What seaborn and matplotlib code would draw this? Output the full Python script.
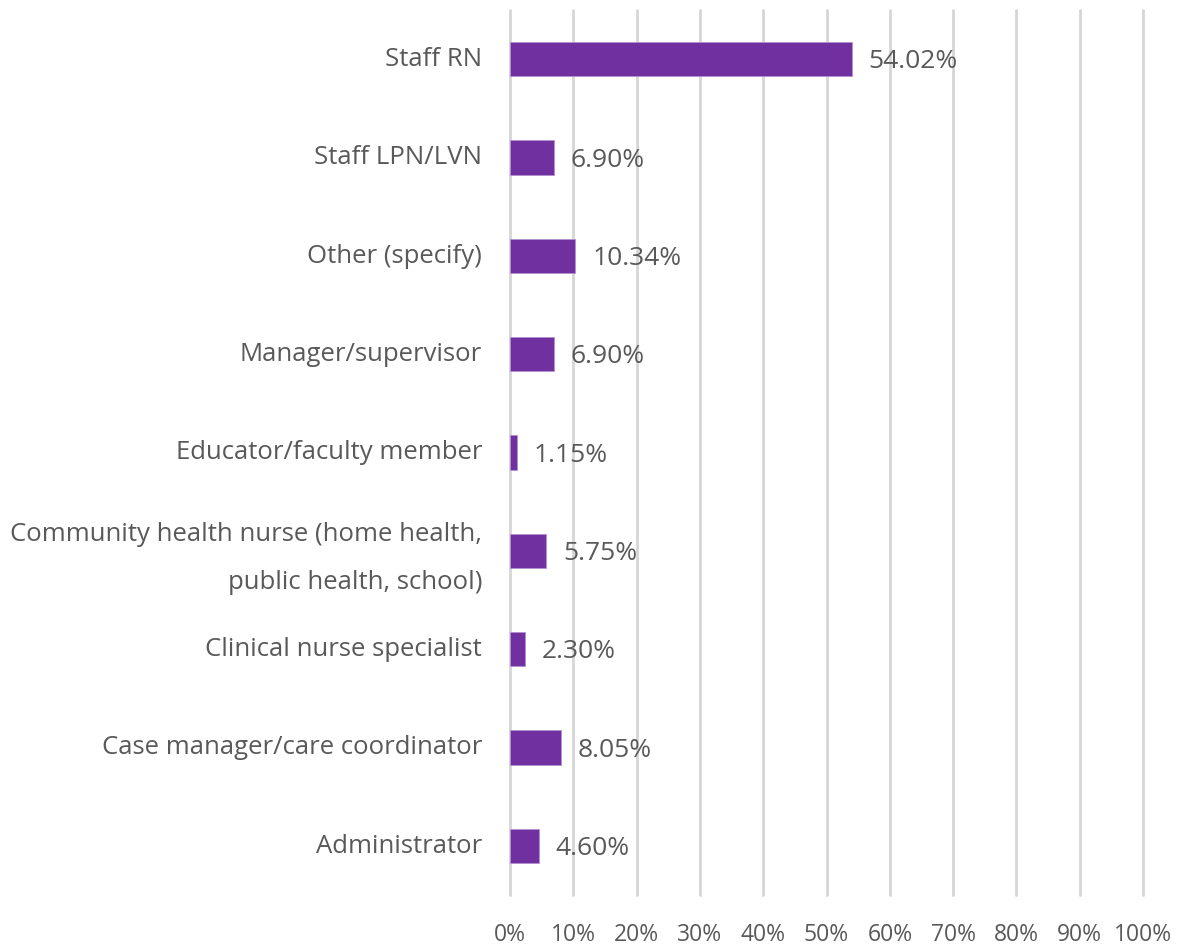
import matplotlib
matplotlib.use("Agg")
import matplotlib.pyplot as plt
import matplotlib.transforms as mtransforms
import seaborn as sns
import pandas as pd

categories = ["Staff RN", "Staff LPN/LVN", "Other (specify)", "Manager/supervisor",
              "Educator/faculty member",
              "Community health nurse (home health,\npublic health, school)",
              "Clinical nurse specialist", "Case manager/care coordinator", "Administrator"]
values = [54.02, 6.90, 10.34, 6.90, 1.15, 5.75, 2.30, 8.05, 4.60]
xticks = [0, 10, 20, 30, 40, 50, 60, 70, 80, 90, 100]

sns.set_theme(style="white")
plt.rcParams['font.family'] = ['Open Sans', 'DejaVu Sans']

df = pd.DataFrame({"cat": categories, "val": values})
fig = plt.figure(figsize=(11.85, 9.47), dpi=100)
ax = fig.add_axes([0.4304, 0.0549, 0.5342, 0.9345])
sns.barplot(data=df, x="val", y="cat", color="#7030A0", width=0.35, ax=ax,
            saturation=1, edgecolor="#b48fd0", linewidth=0.6)
ax.set_xlim(0, 100)
ax.set_ylim(8.5, -0.5)
ax.set_xticks(xticks)
ax.set_xticklabels([f"{t}%" for t in xticks], fontsize=16.5, color="#595959")
ax.tick_params(axis="y", labelsize=18.5, labelcolor="#595959", length=0, pad=20)
ax.tick_params(axis="x", length=0, pad=20)
ax.grid(axis="x", color="#d6d6d6", linewidth=2)
for gl in ax.get_xgridlines():
    gl.set_clip_on(False)
ax.set_axisbelow(True)
for s in ax.spines.values():
    s.set_visible(False)
ax.set_xlabel("")
ax.set_ylabel("")
for lbl in ax.get_yticklabels():
    lbl.set_horizontalalignment("right")
    lbl.set_linespacing(2.2)
    dy = 5 if "\n" in lbl.get_text() else 2
    lbl.set_transform(lbl.get_transform() +
                      mtransforms.ScaledTranslation(0, dy / 72, fig.dpi_scale_trans))
for i, v in enumerate(values):
    ax.annotate(f"{v:.2f}%", (v, i), xytext=(12, -2), textcoords="offset points",
                va="center", ha="left", fontsize=19, color="#595959")
fig.savefig("out.png", dpi=100)
